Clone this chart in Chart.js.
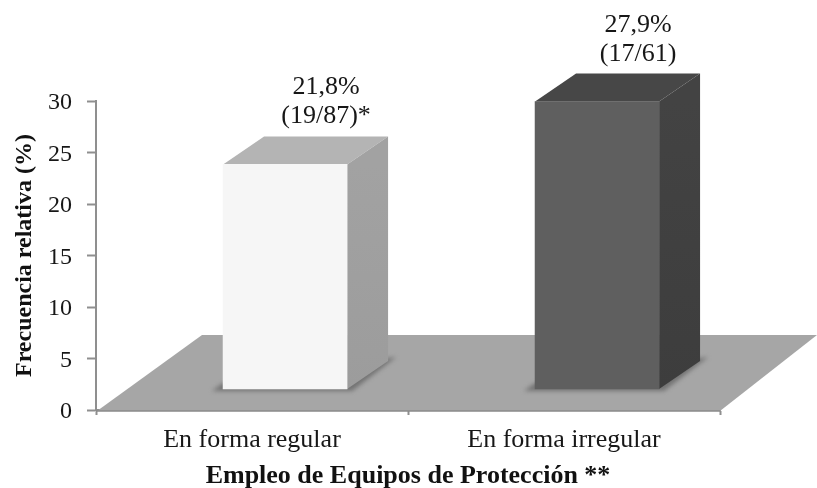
<!DOCTYPE html>
<html>
<head>
<meta charset="utf-8">
<style>html,body{margin:0;padding:0;background:#fff}canvas{display:block}</style>
<script src="https://cdn.jsdelivr.net/npm/chart.js@4"></script>
</head>
<body>
<canvas id="c" width="817" height="488"></canvas>
<script>
const categories = ['En forma regular', 'En forma irregular'];
const frequencies = [21.8, 27.9];
const percentLabels = ['21,8%', '27,9%'];
const countLabels = ['(19/87)*', '(17/61)'];
const yMax = 30;
const yStep = 5;
const xTitle = 'Empleo de Equipos de Protección **';
const yTitle = 'Frecuencia relativa (%)';

const frontColors = ['#f6f6f6', '#5f5f5f'];
const topColors = ['#b4b4b4', '#474747'];
const sideColors = [['#a2a2a2', '#9c9c9c'], ['#434343', '#3d3d3d']];
const serif = '"Liberation Serif", "Times New Roman", serif';
const axisColor = '#8f8f8f';
const textColor = '#171717';
const DEPTH_X = 41, DEPTH_Y = 28;

function poly(ctx, pts, fill) {
  ctx.beginPath();
  pts.forEach((p, i) => i ? ctx.lineTo(p[0], p[1]) : ctx.moveTo(p[0], p[1]));
  ctx.closePath();
  ctx.fillStyle = fill;
  ctx.fill();
}

const scenePlugin = {
  id: 'scene',
  beforeDatasetsDraw(chart) {
    const { ctx, chartArea: a } = chart;
    const meta = chart.getDatasetMeta(0);
    ctx.save();
    poly(ctx, [[a.left + 1, a.bottom + 1], [a.left + 106, a.bottom - 75], [a.right + 97, a.bottom - 75], [a.right, a.bottom + 1]], '#a6a6a6');
    ctx.strokeStyle = '#8a8a8a';
    ctx.lineWidth = 1.5;
    ctx.beginPath();
    ctx.moveTo(a.left, a.bottom + 1);
    ctx.lineTo(a.right, a.bottom + 1);
    ctx.stroke();
    meta.data.forEach((bar, i) => {
      const l = bar.x - bar.width / 2, r = bar.x + bar.width / 2, t = bar.y, b = bar.base;
      ctx.save();
      ctx.filter = 'blur(2px)';
      poly(ctx, [[l - 11, b + 2], [l, b - 6], [r + DEPTH_X + 8, b - DEPTH_Y - 4], [r + 5, b + 2]], '#737373');
      ctx.restore();
      poly(ctx, [[l, t], [l + DEPTH_X, t - DEPTH_Y], [r + DEPTH_X, t - DEPTH_Y], [r, t]], topColors[i]);
      const g = ctx.createLinearGradient(0, t, 0, b);
      g.addColorStop(0, sideColors[i][0]);
      g.addColorStop(1, sideColors[i][1]);
      poly(ctx, [[r, t], [r + DEPTH_X, t - DEPTH_Y], [r + DEPTH_X, b - DEPTH_Y], [r, b]], g);
    });
    ctx.restore();
  },
  afterDatasetsDraw(chart) {
    const { ctx } = chart;
    const meta = chart.getDatasetMeta(0);
    ctx.save();
    ctx.fillStyle = textColor;
    ctx.font = '26px ' + serif;
    ctx.textAlign = 'center';
    ctx.textBaseline = 'alphabetic';
    meta.data.forEach((bar, i) => {
      ctx.fillText(percentLabels[i], bar.x + DEPTH_X, bar.y - 70);
      ctx.fillText(countLabels[i], bar.x + DEPTH_X, bar.y - 41);
    });
    ctx.restore();
  }
};

new Chart(document.getElementById('c'), {
  type: 'bar',
  data: {
    labels: categories,
    datasets: [{
      data: categories.map((c, i) => ({ x: i, y: frequencies[i] })),
      backgroundColor: frontColors,
      borderWidth: 0,
      barThickness: 124,
      xAxisID: 'xBars',
      yAxisID: 'yBars',
      clip: false
    }]
  },
  options: {
    responsive: false,
    animation: false,
    events: [],
    layout: { padding: { top: 101, right: 97, bottom: 0, left: 0 } },
    plugins: { legend: { display: false }, tooltip: { enabled: false } },
    scales: {
      x: {
        type: 'category',
        labels: categories,
        offset: true,
        position: 'bottom',
        afterFit(s) { s.height = 78; },
        grid: { offset: true, drawOnChartArea: false, drawTicks: true, tickLength: 5, tickColor: axisColor, tickWidth: 2 },
        border: { color: axisColor, width: 2 },
        ticks: { color: textColor, font: { family: serif, size: 26 }, padding: 10, maxRotation: 0, autoSkip: false },
        title: { display: true, text: xTitle, color: '#111', font: { family: serif, size: 26, weight: 'bold' }, padding: { top: 0, bottom: -4 } }
      },
      y: {
        type: 'linear',
        position: 'left',
        min: 0,
        max: yMax,
        afterFit(s) { s.width = 96; },
        grid: { drawOnChartArea: false, drawTicks: true, tickLength: 9, tickColor: axisColor, tickWidth: 2 },
        border: { color: axisColor, width: 2 },
        ticks: { stepSize: yStep, color: textColor, font: { family: serif, size: 24 }, padding: 15, labelOffset: 2 },
        title: { display: true, text: yTitle, color: '#111', font: { family: serif, size: 24, weight: 'bold' }, padding: { top: 10, bottom: 0 } }
      },
      xBars: { type: 'linear', display: false, offset: false, grid: { offset: false }, min: -0.606, max: 1.394 },
      yBars: { type: 'linear', display: false, min: -2.04, max: yMax - 2.04 }
    }
  },
  plugins: [scenePlugin]
});
</script>
</body>
</html>
